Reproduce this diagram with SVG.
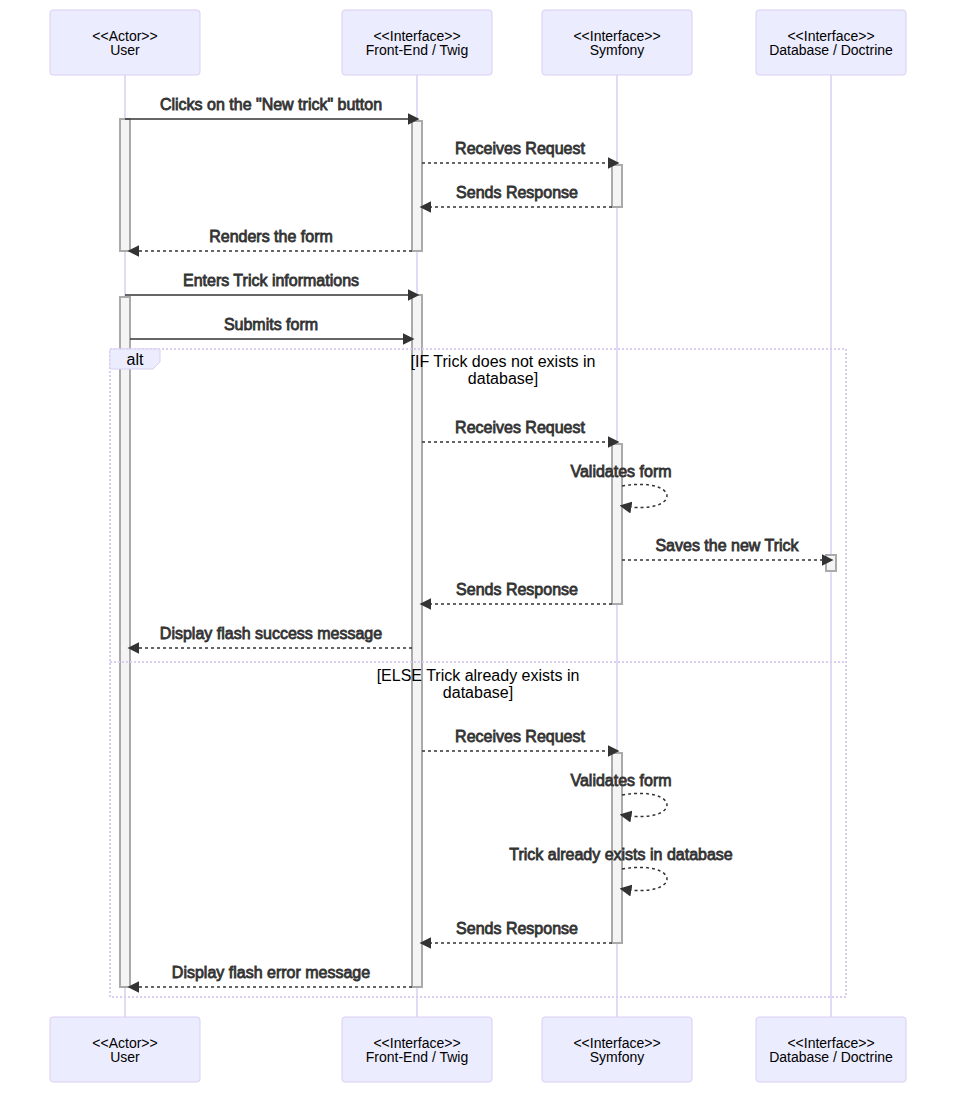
<svg xmlns="http://www.w3.org/2000/svg" width="956" height="1093" viewBox="0 0 956 1093">
<style>
.actor{fill:#ECECFF;stroke:#dacef3;stroke-width:1}
.atext{font-family:"Liberation Sans",Arial,sans-serif;font-size:14px;fill:#000;text-anchor:middle}
.life{stroke:#dacef3;stroke-width:1.5}
.act{fill:#f4f4f4;stroke:#aaa;stroke-width:2}
.msg{stroke:#333;stroke-width:1.5;fill:none}
.dot{stroke-dasharray:3,3}
.mtext{font-family:"Liberation Sans",Arial,sans-serif;font-size:16px;fill:#333;stroke:#333;stroke-width:0.8;text-anchor:middle}
.loop{stroke:#dacef3;stroke-width:2;stroke-dasharray:2,2;fill:none}
.ltext{font-family:"Liberation Sans",Arial,sans-serif;font-size:16px;fill:#000;text-anchor:middle}
</style>
<defs>
<marker id="arrow" viewBox="0 0 10 10" refX="7.9" refY="5" markerUnits="userSpaceOnUse" markerWidth="12" markerHeight="12" orient="auto">
<path d="M 0 0 L 10 5 L 0 10 z" fill="#333"/>
</marker>
</defs>
<g id="lifelines">
<line class="life" x1="125" y1="75" x2="125" y2="1017"/>
<line class="life" x1="417" y1="75" x2="417" y2="1017"/>
<line class="life" x1="617" y1="75" x2="617" y2="1017"/>
<line class="life" x1="831" y1="75" x2="831" y2="1017"/>
</g>
<g id="actor-user">
<rect class="actor" x="50" y="10" width="150" height="65" rx="3"/>
<text class="atext" x="125" y="41">&lt;&lt;Actor&gt;&gt;</text>
<text class="atext" x="125" y="55">User</text>
<rect class="actor" x="50" y="1017" width="150" height="65" rx="3"/>
<text class="atext" x="125" y="1048">&lt;&lt;Actor&gt;&gt;</text>
<text class="atext" x="125" y="1062">User</text>
</g>
<g id="actor-frontend">
<rect class="actor" x="342" y="10" width="150" height="65" rx="3"/>
<text class="atext" x="417" y="41">&lt;&lt;Interface&gt;&gt;</text>
<text class="atext" x="417" y="55">Front-End / Twig</text>
<rect class="actor" x="342" y="1017" width="150" height="65" rx="3"/>
<text class="atext" x="417" y="1048">&lt;&lt;Interface&gt;&gt;</text>
<text class="atext" x="417" y="1062">Front-End / Twig</text>
</g>
<g id="actor-symfony">
<rect class="actor" x="542" y="10" width="150" height="65" rx="3"/>
<text class="atext" x="617" y="41">&lt;&lt;Interface&gt;&gt;</text>
<text class="atext" x="617" y="55">Symfony</text>
<rect class="actor" x="542" y="1017" width="150" height="65" rx="3"/>
<text class="atext" x="617" y="1048">&lt;&lt;Interface&gt;&gt;</text>
<text class="atext" x="617" y="1062">Symfony</text>
</g>
<g id="actor-database">
<rect class="actor" x="756" y="10" width="150" height="65" rx="3"/>
<text class="atext" x="831" y="41">&lt;&lt;Interface&gt;&gt;</text>
<text class="atext" x="831" y="55">Database / Doctrine</text>
<rect class="actor" x="756" y="1017" width="150" height="65" rx="3"/>
<text class="atext" x="831" y="1048">&lt;&lt;Interface&gt;&gt;</text>
<text class="atext" x="831" y="1062">Database / Doctrine</text>
</g>
<g id="activations">
<rect class="act" x="120" y="119" width="10" height="132"/>
<rect class="act" x="412" y="121" width="10" height="130"/>
<rect class="act" x="612" y="165" width="10" height="42"/>
<rect class="act" x="120" y="297" width="10" height="690"/>
<rect class="act" x="412" y="295" width="10" height="692"/>
<rect class="act" x="612" y="444" width="10" height="160"/>
<rect class="act" x="826" y="555" width="10" height="16"/>
<rect class="act" x="612" y="753" width="10" height="190"/>
</g>
<g id="alt-block">
<rect class="loop" x="110" y="349" width="736" height="648"/>
<line class="loop" x1="110" y1="662" x2="846" y2="662"/>
<polygon points="110,349 160,349 160,362 153,369 110,369" fill="#ECECFF" stroke="#dacef3" stroke-width="1"/>
<text class="ltext" x="135" y="365">alt</text>
<text class="ltext" x="503" y="367">[IF Trick does not exists in</text>
<text class="ltext" x="503" y="384">database]</text>
<text class="ltext" x="478" y="681">[ELSE Trick already exists in</text>
<text class="ltext" x="478" y="698">database]</text>
</g>
<g id="connectors">
<line class="msg" x1="125" y1="119" x2="417" y2="119" marker-end="url(#arrow)"/>
<line class="msg dot" x1="422" y1="163" x2="617" y2="163" marker-end="url(#arrow)"/>
<line class="msg dot" x1="612" y1="207" x2="422" y2="207" marker-end="url(#arrow)"/>
<line class="msg dot" x1="412" y1="251" x2="130" y2="251" marker-end="url(#arrow)"/>
<line class="msg" x1="125" y1="295" x2="417" y2="295" marker-end="url(#arrow)"/>
<line class="msg" x1="130" y1="339" x2="412" y2="339" marker-end="url(#arrow)"/>
<line class="msg dot" x1="422" y1="442" x2="617" y2="442" marker-end="url(#arrow)"/>
<path class="msg dot" d="M 622,486 C 682,476 682,516 622,506" marker-end="url(#arrow)"/>
<line class="msg dot" x1="622" y1="560" x2="831" y2="560" marker-end="url(#arrow)"/>
<line class="msg dot" x1="612" y1="604" x2="422" y2="604" marker-end="url(#arrow)"/>
<line class="msg dot" x1="412" y1="648" x2="130" y2="648" marker-end="url(#arrow)"/>
<line class="msg dot" x1="422" y1="751" x2="617" y2="751" marker-end="url(#arrow)"/>
<path class="msg dot" d="M 622,795 C 682,785 682,825 622,815" marker-end="url(#arrow)"/>
<path class="msg dot" d="M 622,869 C 682,859 682,899 622,889" marker-end="url(#arrow)"/>
<line class="msg dot" x1="612" y1="943" x2="422" y2="943" marker-end="url(#arrow)"/>
<line class="msg dot" x1="412" y1="987" x2="130" y2="987" marker-end="url(#arrow)"/>
<text class="mtext" x="271" y="110">Clicks on the "New trick" button</text>
<text class="mtext" x="520" y="154">Receives Request</text>
<text class="mtext" x="517" y="198">Sends Response</text>
<text class="mtext" x="271" y="242">Renders the form</text>
<text class="mtext" x="271" y="286">Enters Trick informations</text>
<text class="mtext" x="271" y="330">Submits form</text>
<text class="mtext" x="520" y="433">Receives Request</text>
<text class="mtext" x="621" y="477">Validates form</text>
<text class="mtext" x="727" y="551">Saves the new Trick</text>
<text class="mtext" x="517" y="595">Sends Response</text>
<text class="mtext" x="271" y="639">Display flash success message</text>
<text class="mtext" x="520" y="742">Receives Request</text>
<text class="mtext" x="621" y="786">Validates form</text>
<text class="mtext" x="621" y="860">Trick already exists in database</text>
<text class="mtext" x="517" y="934">Sends Response</text>
<text class="mtext" x="271" y="978">Display flash error message</text>
</g>
</svg>
